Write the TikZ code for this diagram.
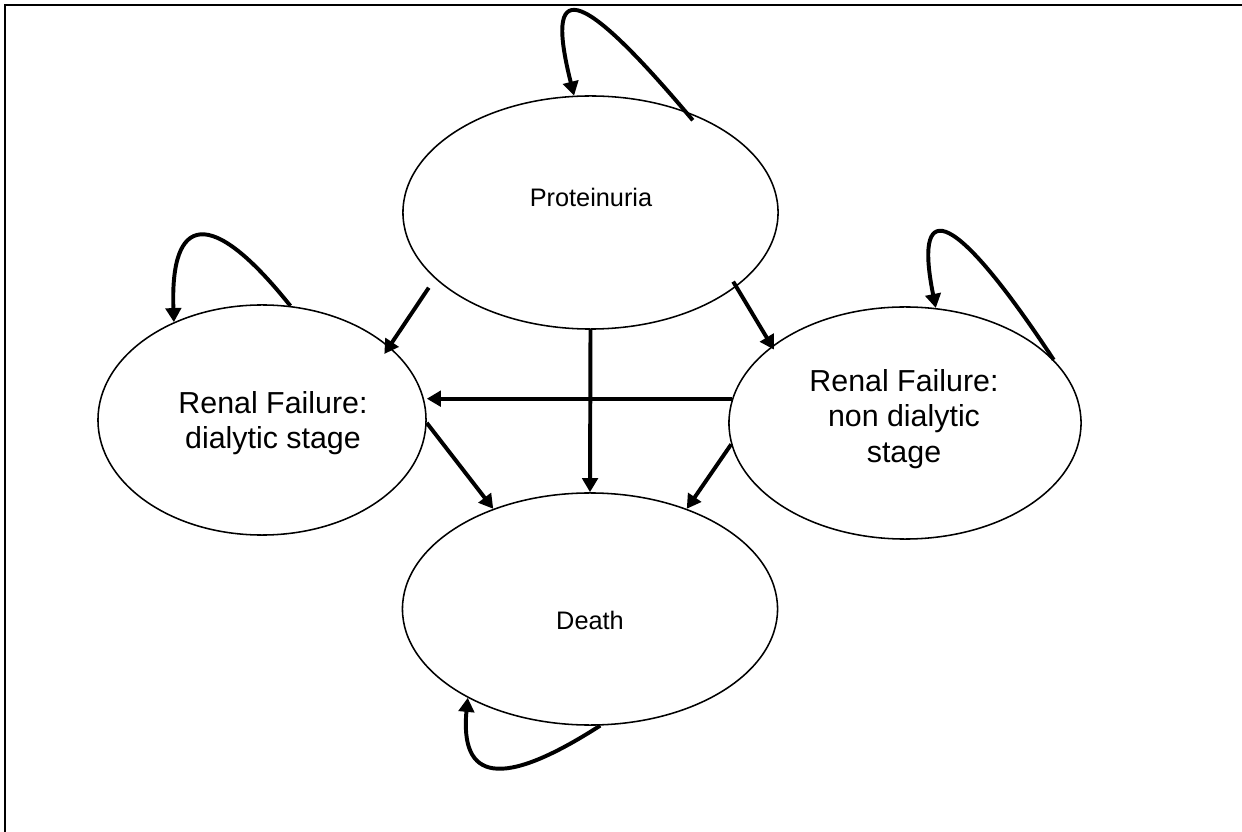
\documentclass[tikz,border=0pt]{standalone}
\usepackage{fontspec}
\setmainfont{Liberation Sans}
\usetikzlibrary{shapes.geometric,arrows.meta}
\tikzset{
  state/.style={ellipse,draw,line width=1.1pt,inner sep=0pt},
  lbl/.style={align=center,inner sep=0pt,font=\fontsize{21.6}{25.3}\selectfont},
  lblsmall/.style={lbl,font=\fontsize{18}{22}\selectfont},
  arr/.style={line width=2.8pt,-{Triangle[length=10pt,width=11pt]}}
}
\begin{document}
\begin{tikzpicture}[x=0.025cm,y=-0.025cm]
\useasboundingbox (0,0) rectangle (1242,832);
\draw[line width=1.4pt] (1242,4.8)--(4.8,4.8)--(4.8,832);
\node[state,minimum width=9.375cm,minimum height=5.825cm] (prot) at (590.5,212.5) {};
\node[state,minimum width=8.2cm,minimum height=5.75cm] (left) at (262,420) {};
\node[state,minimum width=8.8cm,minimum height=5.8cm] (right) at (905,423) {};
\node[state,minimum width=9.375cm,minimum height=5.8cm] (death) at (590,609) {};
\node[lblsmall] (protlbl) at (591,197) {Proteinuria};
\node[lbl] (leftlbl) at (273,423) {Renal Failure:\\dialytic stage};
\node[lbl] (rightlbl) at (904,419) {Renal Failure:\\non dialytic\\stage};
\node[lblsmall] (deathlbl) at (590,620) {Death};
\draw[arr,shorten <=0.275cm,shorten >=-0.225cm] (prot.203) -- (left.30);
\draw[arr,shorten <=-0.15cm,shorten >=-0.1cm] (prot.333.4) -- (right.150.9);
\draw[arr] (prot.south) -- (death.north);
\draw[arr] (right.172.5) -- (right.172.5 -| left.east);
\draw[arr] (left.359) -- (death.134);
\draw[arr] (right.187.8) -- (death.46);
\draw[arr,shorten <=-0.3cm] (prot.47) .. controls (575,-20) and (545,-20) .. (prot.98);
\draw[arr] (left.76) .. controls (210,205) and (170,215) .. (left.132.8);
\draw[arr] (right.23.2) .. controls (945,195) and (915,205) .. (right.75.7);
\draw[arr] (death.275.8) .. controls (500,790) and (460,780) .. (death.216.9);
\end{tikzpicture}
\end{document}
